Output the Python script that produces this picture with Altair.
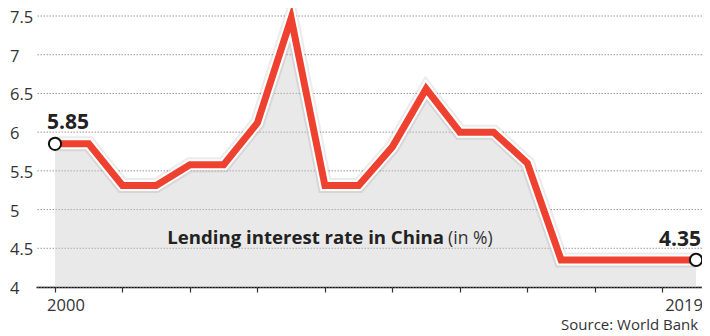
import altair as alt
import pandas as pd

years = list(range(2000, 2020))
rates = [5.85, 5.85, 5.31, 5.31, 5.58, 5.58, 6.12, 7.47, 5.31, 5.31,
         5.81, 6.56, 6.00, 6.00, 5.60, 4.35, 4.35, 4.35, 4.35, 4.35]

end_years = [2000, 2019]
end_values = [5.85, 4.35]
end_labels = ["5.85", "4.35"]
axis_label_years = [2000, 2019]
axis_label_text = ["2000", "2019"]
y_ticks = [4, 4.5, 5, 5.5, 6, 6.5, 7, 7.5]
y_tick_text = ["4", "4.5", "5", "5.5", "6", "6.5", "7", "7.5"]

FONT = "Open Sans"
RED = "#ee4130"

df = pd.DataFrame({"year": years, "rate": rates})
ends = pd.DataFrame({"year": end_years, "rate": end_values, "label": end_labels})
xlab = pd.DataFrame({"year": axis_label_years, "label": axis_label_text, "base": [4, 4]})
ygrid = pd.DataFrame({"rate": y_ticks, "label": y_tick_text})

xscale = alt.Scale(domain=[1999.437, 2019.176], nice=False, zero=False)
yscale = alt.Scale(domain=[4, 7.5], nice=False, zero=False)

base = alt.Chart(df)

grid = alt.Chart(ygrid).mark_rule(color="#999", strokeDash=[1.5, 1.5], strokeWidth=1).encode(
    y=alt.Y("rate:Q", scale=yscale, axis=None))

ylabels = alt.Chart(ygrid).mark_text(
    font=FONT, fontSize=16.5, color="#333", align="left", baseline="middle",
    dx=-26, dy=2).encode(
    x=alt.value(0), y=alt.Y("rate:Q", scale=yscale, axis=None), text="label:N")

area = base.mark_area(color="#c8c8c8", opacity=0.4).encode(
    x=alt.X("year:Q", scale=xscale,
            axis=alt.Axis(values=years, labels=False, grid=False, title=None,
                          domainColor="#111", domainWidth=1.5, tickColor="#333",
                          tickSize=5, tickWidth=1.2)),
    y=alt.Y("rate:Q", scale=yscale, axis=None),
    y2=alt.datum(4),
)

shadow = base.mark_line(color="#000", opacity=0.08, strokeWidth=15,
                        strokeJoin="miter").encode(x="year:Q", y="rate:Q")
halo = base.mark_line(color="#fff", strokeWidth=11, strokeJoin="miter").encode(
    x="year:Q", y="rate:Q")
line = base.mark_line(color=RED, strokeWidth=7, strokeJoin="miter").encode(
    x="year:Q", y="rate:Q")

pts = alt.Chart(ends).mark_point(filled=True, fill="white", stroke="#111",
                                 strokeWidth=2, size=150, opacity=1).encode(
    x="year:Q", y="rate:Q")

lab_first = alt.Chart(ends.iloc[[0]]).mark_text(
    font=FONT, fontSize=21, fontWeight="bold", color="#222", align="left",
    baseline="alphabetic", dx=-8, dy=-15).encode(x="year:Q", y="rate:Q", text="label:N")
lab_last = alt.Chart(ends.iloc[[1]]).mark_text(
    font=FONT, fontSize=21, fontWeight="bold", color="#222", align="left",
    baseline="alphabetic", dx=-37, dy=-14).encode(x="year:Q", y="rate:Q", text="label:N")

xlabel_first = alt.Chart(xlab.iloc[[0]]).mark_text(
    font=FONT, fontSize=16.5, color="#333", baseline="alphabetic", dy=24, dx=11).encode(
    x="year:Q", y="base:Q", text="label:N")
xlabel_last = alt.Chart(xlab.iloc[[1]]).mark_text(
    font=FONT, fontSize=16.5, color="#333", baseline="alphabetic", dy=24, dx=-12).encode(
    x="year:Q", y="base:Q", text="label:N")

ann = pd.DataFrame({"year": [2003.33], "rate": [4.56], "t": ["Lending interest rate in China"]})
ann2 = pd.DataFrame({"year": [2011.65], "rate": [4.56], "t": ["(in %)"]})
src = pd.DataFrame({"year": [2015.0], "rate": [4.0], "t": ["Source: World Bank"]})

title1 = alt.Chart(ann).mark_text(font=FONT, fontSize=18.6, fontWeight="bold",
                                  color="#222", align="left", baseline="alphabetic").encode(
    x="year:Q", y="rate:Q", text="t:N")
title2 = alt.Chart(ann2).mark_text(font=FONT, fontSize=17.5, color="#333",
                                   align="left", baseline="alphabetic").encode(
    x="year:Q", y="rate:Q", text="t:N")
source = alt.Chart(src).mark_text(font=FONT, fontSize=15, color="#333",
                                  align="left", baseline="alphabetic", dy=43).encode(
    x="year:Q", y="rate:Q", text="t:N")

chart = alt.layer(grid, ylabels, area, shadow, halo, line, pts, lab_first, lab_last,
                  xlabel_first, xlabel_last, title1, title2, source).properties(
    width=666, height=271,
    autosize=alt.AutoSizeParams(type="none"),
    padding={"left": 28, "top": 8, "right": 0, "bottom": 49},
).configure_view(stroke=None)

chart.save("out.html", embed_options={"renderer": "svg", "actions": False})
